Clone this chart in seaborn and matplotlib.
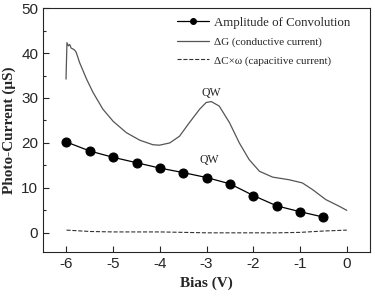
import numpy as np
import pandas as pd
import matplotlib
matplotlib.use("Agg")
import matplotlib.pyplot as plt
import seaborn as sns

# amplitude of convolution (points)
amp_bias = [-6.0, -5.5, -5.0, -4.5, -4.0, -3.5, -3.0, -2.5, -2.0, -1.5, -1.0, -0.5]
amp_val = [20.2, 18.2, 16.8, 15.6, 14.4, 13.4, 12.3, 10.9, 8.3, 6.0, 4.7, 3.5]

# conductive current dG
dg_bias = [-6.01, -5.99, -5.96, -5.93, -5.90, -5.86, -5.82, -5.79, -5.72, -5.57,
           -5.43, -5.22, -5.0, -4.72, -4.43, -4.15, -4.01, -3.79, -3.58, -3.37,
           -3.15, -3.01, -2.90, -2.73, -2.51, -2.30, -2.09, -1.87, -1.59, -1.23,
           -0.95, -0.73, -0.45, -0.16, 0.0]
dg_val = [34.2, 42.3, 41.6, 41.9, 41.1, 40.9, 40.6, 40.1, 37.9, 34.2,
          31.2, 27.5, 24.8, 22.3, 20.6, 19.6, 19.5, 20.0, 21.5, 24.5,
          27.5, 29.0, 29.2, 28.2, 24.5, 20.0, 16.3, 13.7, 12.4, 11.8,
          11.1, 9.6, 7.4, 5.9, 5.0]

# capacitive current dC x w
dc_bias = [-6.0, -5.5, -5.0, -4.5, -4.0, -3.5, -3.0, -2.5, -2.0, -1.5, -1.0, -0.5, 0.0]
dc_val = [0.6, 0.3, 0.2, 0.2, 0.2, 0.1, 0.0, 0.0, 0.0, 0.0, 0.1, 0.4, 0.6]

sns.set_style("ticks")
plt.rcParams["font.family"] = ["Liberation Sans", "DejaVu Sans"]
plt.rcParams["axes.unicode_minus"] = False
serif = ["Liberation Serif", "DejaVu Serif"]

fig = plt.figure(figsize=(3.75, 3.0), dpi=100)
ax = fig.add_axes([0.115, 0.161, 0.872, 0.812])

sns.lineplot(x=amp_bias, y=amp_val, ax=ax, color="black", lw=0.9, marker="o",
             markersize=6.5, markeredgecolor="black", label="Amplitude of Convolution")
sns.lineplot(x=dg_bias, y=dg_val, ax=ax, color="#555555", lw=0.9, sort=False,
             label="\u0394G (conductive current)")
sns.lineplot(x=dc_bias, y=dc_val, ax=ax, color="#333333", lw=0.8, linestyle="--",
             label="\u0394C\u00d7\u03c9 (capacitive current)")

ax.text(-2.9, 31.0, "QW", family=serif, fontsize=8.5, ha="center", va="center")
ax.text(-2.95, 16.2, "QW", family=serif, fontsize=8.5, ha="center", va="center")

ax.set_xlim(-6.5, 0.5)
ax.set_ylim(-4.2, 50)
ax.set_xticks([-6, -5, -4, -3, -2, -1, 0])
ax.set_yticks([0, 10, 20, 30, 40, 50])
ax.set_yticks([5, 15, 25, 35, 45], minor=True)
ax.tick_params(direction="in", labelsize=11, length=4, width=0.8)
ax.tick_params(which="minor", direction="in", length=2, width=0.8)
for s in ax.spines.values():
    s.set_visible(True)
    s.set_linewidth(0.8)

ax.set_xlabel("Bias (V)", family=serif, fontweight="bold", fontsize=11)
ax.set_ylabel("Photo-Current (\u03bcS)", family=serif, fontweight="bold", fontsize=11)

leg = ax.legend(loc="upper right", bbox_to_anchor=(0.955, 0.985), frameon=False,
                handlelength=2.5, handletextpad=0.4, markerscale=0.65,
                prop={"family": serif, "size": 9.3}, borderaxespad=0.0, labelspacing=0.55)
for t in leg.get_texts()[1:]:
    t.set_fontsize(8)

fig.savefig("out.png", dpi=100)
